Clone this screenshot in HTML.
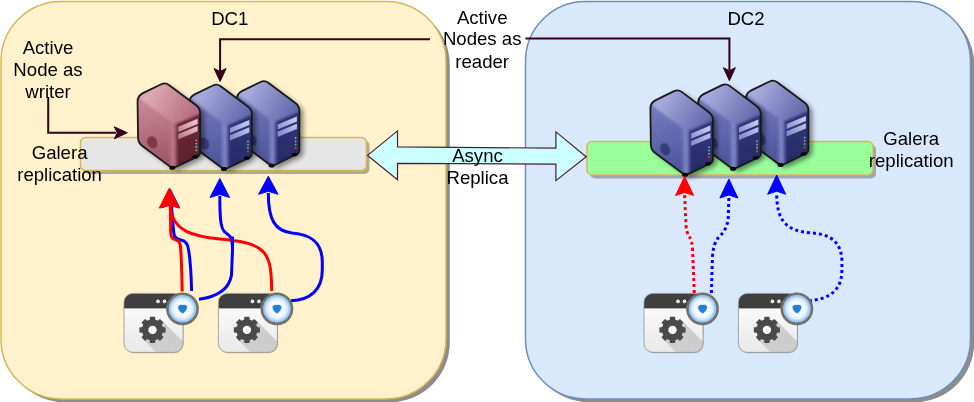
<!DOCTYPE html>
<html><head><meta charset="utf-8"><style>
html,body{margin:0;padding:0;background:#fff;width:974px;height:402px;overflow:hidden}
svg{display:block;filter:blur(0.35px)}
text{font-family:"Liberation Sans", sans-serif;font-size:18.6px;fill:#000}
</style></head><body>
<svg width="974" height="402" viewBox="0 0 974 402">

<defs>
 <filter id="fblur" x="-20%" y="-20%" width="140%" height="140%"><feGaussianBlur stdDeviation="0.9"/></filter>
 <filter id="fb2" x="-30%" y="-30%" width="160%" height="160%"><feGaussianBlur stdDeviation="0.5"/></filter>
 <filter id="soft" x="-30%" y="-30%" width="160%" height="160%">
   <feGaussianBlur stdDeviation="2.5"/>
 </filter>
 <linearGradient id="appbody" x1="0" y1="0" x2="0" y2="1">
   <stop offset="0" stop-color="#ffffff"/><stop offset="1" stop-color="#e8e8e8"/>
 </linearGradient>
 <radialGradient id="eye" cx="0.5" cy="0.5" r="0.5">
   <stop offset="0" stop-color="#eaf4ff"/><stop offset="0.45" stop-color="#f8fbff"/>
   <stop offset="0.68" stop-color="#dcedfd"/><stop offset="0.86" stop-color="#92c5f4"/><stop offset="1" stop-color="#b4d6f7"/>
 </radialGradient>


 <linearGradient id="bbevg" gradientUnits="userSpaceOnUse" x1="3" y1="0" x2="12.5" y2="0">
   <stop offset="0" stop-color="#858bca" stop-opacity="0"/><stop offset="0.55" stop-color="#858bca" stop-opacity="1"/><stop offset="1" stop-color="#30357a" stop-opacity="1"/>
 </linearGradient>
 <linearGradient id="btop" gradientUnits="userSpaceOnUse" x1="-12" y1="6" x2="34" y2="34">
   <stop offset="0" stop-color="#a4a8da"/><stop offset="1" stop-color="#5e64a8"/>
 </linearGradient>
 <linearGradient id="bleft" gradientUnits="userSpaceOnUse" x1="-14" y1="22" x2="2" y2="84">
   <stop offset="0" stop-color="#7278bc"/><stop offset="1" stop-color="#4c5296"/>
 </linearGradient>
 <linearGradient id="bfront" gradientUnits="userSpaceOnUse" x1="0" y1="35" x2="0" y2="85">
   <stop offset="0" stop-color="#30357a"/><stop offset="1" stop-color="#272b66"/>
 </linearGradient>
 <linearGradient id="bstr" gradientUnits="userSpaceOnUse" x1="32" y1="36" x2="13" y2="50">
   <stop offset="0" stop-color="#cdd1f2"/><stop offset="1" stop-color="#8a8fcc"/>
 </linearGradient>
 <clipPath id="scb"><path d="M-4.05,1.97 Q0.00,0.00 3.60,2.69 L30.79,23.01 Q34.80,26.00 34.80,31.00 L34.80,70.00 Q34.80,73.00 32.10,74.30 L10.91,84.47 Q7.30,86.20 4.09,83.81 L-23.19,63.49 Q-27.20,60.50 -27.26,55.50 L-27.72,19.50 Q-27.80,13.50 -22.40,10.88 Z"/></clipPath>
 <g id="srvb">
   <path d="M-4.05,1.97 Q0.00,0.00 3.60,2.69 L30.79,23.01 Q34.80,26.00 34.80,31.00 L34.80,70.00 Q34.80,73.00 32.10,74.30 L10.91,84.47 Q7.30,86.20 4.09,83.81 L-23.19,63.49 Q-27.20,60.50 -27.26,55.50 L-27.72,19.50 Q-27.80,13.50 -22.40,10.88 Z" fill="#000" opacity="0.45" transform="translate(4,3)" filter="url(#soft)"/>
   <g clip-path="url(#scb)">
     <g filter="url(#fblur)">
     <rect x="-30" y="-2" width="70" height="92" fill="url(#bleft)"/>
     <path d="M12,40 L40,24 L40,95 L12,95 Z" fill="url(#bfront)"/>
     <path d="M0,-2 L40,26 L40,29 L12,41 Q7.5,42 5,39 L-30,13 Z" fill="url(#btop)"/>
     <path d="M2,37 Q7.5,42 12.5,41 L12.5,95 L2,95 Z" fill="url(#bbevg)"/>
     </g>
     <path d="M13,44.4 L32.3,36.4 L32.3,41.6 L13,49.6 Z" fill="url(#bstr)"/>
     <path d="M13,51.7 L32.3,43.7 L32.3,48.9 L13,56.9 Z" fill="url(#bstr)"/>
     <ellipse cx="-13" cy="60" rx="4.8" ry="6.3" fill="#363b78" opacity="0.95" transform="rotate(-25 -13 60)" filter="url(#fb2)"/>
     <circle cx="31" cy="58" r="0.9" fill="#a0a0c0"/>
     <circle cx="31" cy="61.3" r="0.9" fill="#a0a0c0"/>
     <circle cx="31" cy="64.6" r="1.1" fill="#40c040"/>
     <circle cx="31" cy="68" r="1.1" fill="#e03030"/>
   </g>
   <path d="M-4.05,1.97 Q0.00,0.00 3.60,2.69 L30.79,23.01 Q34.80,26.00 34.80,31.00 L34.80,70.00 Q34.80,73.00 32.10,74.30 L10.91,84.47 Q7.30,86.20 4.09,83.81 L-23.19,63.49 Q-27.20,60.50 -27.26,55.50 L-27.72,19.50 Q-27.80,13.50 -22.40,10.88 Z" fill="none" stroke="#1a1a1a" stroke-width="1.8" stroke-linejoin="round"/>
   <ellipse cx="7" cy="85.5" rx="3" ry="2" fill="#000"/>
   <ellipse cx="30" cy="74.5" rx="3" ry="1.8" fill="#000"/>
 </g>

 <linearGradient id="rbevg" gradientUnits="userSpaceOnUse" x1="3" y1="0" x2="12.5" y2="0">
   <stop offset="0" stop-color="#c07a8a" stop-opacity="0"/><stop offset="0.55" stop-color="#c07a8a" stop-opacity="1"/><stop offset="1" stop-color="#702a3a" stop-opacity="1"/>
 </linearGradient>
 <linearGradient id="rtop" gradientUnits="userSpaceOnUse" x1="-12" y1="6" x2="34" y2="34">
   <stop offset="0" stop-color="#dea8b4"/><stop offset="1" stop-color="#b06878"/>
 </linearGradient>
 <linearGradient id="rleft" gradientUnits="userSpaceOnUse" x1="-14" y1="22" x2="2" y2="84">
   <stop offset="0" stop-color="#c68696"/><stop offset="1" stop-color="#9a5264"/>
 </linearGradient>
 <linearGradient id="rfront" gradientUnits="userSpaceOnUse" x1="0" y1="35" x2="0" y2="85">
   <stop offset="0" stop-color="#702a3a"/><stop offset="1" stop-color="#5a1e2c"/>
 </linearGradient>
 <linearGradient id="rstr" gradientUnits="userSpaceOnUse" x1="32" y1="36" x2="13" y2="50">
   <stop offset="0" stop-color="#f0ccd4"/><stop offset="1" stop-color="#c08490"/>
 </linearGradient>
 <clipPath id="scr"><path d="M-4.05,1.97 Q0.00,0.00 3.60,2.69 L30.79,23.01 Q34.80,26.00 34.80,31.00 L34.80,70.00 Q34.80,73.00 32.10,74.30 L10.91,84.47 Q7.30,86.20 4.09,83.81 L-23.19,63.49 Q-27.20,60.50 -27.26,55.50 L-27.72,19.50 Q-27.80,13.50 -22.40,10.88 Z"/></clipPath>
 <g id="srvr">
   <path d="M-4.05,1.97 Q0.00,0.00 3.60,2.69 L30.79,23.01 Q34.80,26.00 34.80,31.00 L34.80,70.00 Q34.80,73.00 32.10,74.30 L10.91,84.47 Q7.30,86.20 4.09,83.81 L-23.19,63.49 Q-27.20,60.50 -27.26,55.50 L-27.72,19.50 Q-27.80,13.50 -22.40,10.88 Z" fill="#000" opacity="0.45" transform="translate(4,3)" filter="url(#soft)"/>
   <g clip-path="url(#scr)">
     <g filter="url(#fblur)">
     <rect x="-30" y="-2" width="70" height="92" fill="url(#rleft)"/>
     <path d="M12,40 L40,24 L40,95 L12,95 Z" fill="url(#rfront)"/>
     <path d="M0,-2 L40,26 L40,29 L12,41 Q7.5,42 5,39 L-30,13 Z" fill="url(#rtop)"/>
     <path d="M2,37 Q7.5,42 12.5,41 L12.5,95 L2,95 Z" fill="url(#rbevg)"/>
     </g>
     <path d="M13,44.4 L32.3,36.4 L32.3,41.6 L13,49.6 Z" fill="url(#rstr)"/>
     <path d="M13,51.7 L32.3,43.7 L32.3,48.9 L13,56.9 Z" fill="url(#rstr)"/>
     <ellipse cx="-13" cy="60" rx="4.8" ry="6.3" fill="#7a3446" opacity="0.95" transform="rotate(-25 -13 60)" filter="url(#fb2)"/>
     <circle cx="31" cy="58" r="0.9" fill="#b0a0a8"/>
     <circle cx="31" cy="61.3" r="0.9" fill="#a0b0b0"/>
     <circle cx="31" cy="64.6" r="1.1" fill="#40c0c0"/>
     <circle cx="31" cy="68" r="1.1" fill="#40c040"/>
   </g>
   <path d="M-4.05,1.97 Q0.00,0.00 3.60,2.69 L30.79,23.01 Q34.80,26.00 34.80,31.00 L34.80,70.00 Q34.80,73.00 32.10,74.30 L10.91,84.47 Q7.30,86.20 4.09,83.81 L-23.19,63.49 Q-27.20,60.50 -27.26,55.50 L-27.72,19.50 Q-27.80,13.50 -22.40,10.88 Z" fill="none" stroke="#1a1a1a" stroke-width="1.8" stroke-linejoin="round"/>
   <ellipse cx="7" cy="85.5" rx="3" ry="2" fill="#000"/>
   <ellipse cx="30" cy="74.5" rx="3" ry="1.8" fill="#000"/>
 </g>

 <g id="app">
   <clipPath id="appclip"><rect x="0" y="0" width="59" height="59" rx="9"/></clipPath>
   <rect x="0.6" y="0.8" width="59" height="59" rx="9" fill="#000" opacity="0.2"/>
   <g clip-path="url(#appclip)">
     <rect x="0" y="0" width="59" height="59" fill="url(#appbody)"/>
     <path d="M37.9,27.1 L87.9,77.1 L69.1,95.9 L19.1,45.9 Z" fill="#cdcdcd"/>
     <rect x="0" y="0" width="59" height="15" fill="#3f3f3f"/>
   </g>
   <rect x="0" y="0" width="59" height="59" rx="9" fill="none" stroke="#8a8a80" stroke-width="0.9" opacity="0.8"/>
   <path d="M38.72,33.67 L41.56,33.99 L41.56,39.01 L38.72,39.33 L38.29,40.56 L37.72,41.72 L39.51,43.96 L35.96,47.51 L33.72,45.72 L32.56,46.29 L31.33,46.72 L31.01,49.56 L25.99,49.56 L25.67,46.72 L24.44,46.29 L23.28,45.72 L21.04,47.51 L17.49,43.96 L19.28,41.72 L18.71,40.56 L18.28,39.33 L15.44,39.01 L15.44,33.99 L18.28,33.67 L18.71,32.44 L19.28,31.28 L17.49,29.04 L21.04,25.49 L23.28,27.28 L24.44,26.71 L25.67,26.28 L25.99,23.44 L31.01,23.44 L31.33,26.28 L32.56,26.71 L33.72,27.28 L35.96,25.49 L39.51,29.04 L37.72,31.28 L38.29,32.44 Z" fill="#4a4a4a"/>
   <circle cx="28.5" cy="36.5" r="4.2" fill="#fff"/>
   <circle cx="34" cy="8" r="1.8" fill="#fff"/>
   <circle cx="40.5" cy="8" r="1.8" fill="#fff"/>
   <circle cx="58.5" cy="15.4" r="15" fill="url(#eye)"/>
   <circle cx="58.5" cy="15.4" r="15.1" fill="none" stroke="#6e6e6e" stroke-width="2.6"/>
   <circle cx="58.5" cy="15.4" r="15" fill="none" stroke="#c89a48" stroke-width="1" stroke-dasharray="1 5" opacity="0.8"/>
   <path d="M54,13 Q56.2,10.6 58.9,11.6 Q61.6,10.6 63.2,13.2 Q63,17.4 58.8,20.2 Q54.2,17.4 54,13 Z" fill="#1f80d4"/>
 </g>
</defs>
<rect x="4.8" y="4.9" width="445" height="397.5" rx="60" fill="#8c8c8c"/>
<rect x="1" y="1.4" width="445" height="397.5" rx="60" fill="#fff2cc" stroke="#d6b656" stroke-width="1.5"/>
<rect x="529.3" y="4.9" width="445" height="397.5" rx="60" fill="#8c8c8c"/>
<rect x="525.5" y="1.4" width="445" height="397.5" rx="60" fill="#dae8fc" stroke="#6c8ebf" stroke-width="1.5"/>
<rect x="83.5" y="140.5" width="286" height="33.5" rx="5" fill="#707070" opacity="0.55"/>
<rect x="80.5" y="137.5" width="286" height="33" rx="5" fill="#e6e6e6" stroke="#d6b656" stroke-width="1.5"/>
<rect x="590" y="144.5" width="286" height="34" rx="5" fill="#707070" opacity="0.55"/>
<rect x="587" y="141.5" width="286" height="33.5" rx="5" fill="#99ff99" stroke="#d6b656" stroke-width="1.5"/>
<path d="M367.6,155.4 L397.5,130.9 L397.5,146.8 L555.9,148.2 L555.9,131.9 L586.2,156.8 L555.9,180.6 L555.9,164.1 L397.5,163.3 L397.5,179.7 Z" fill="#ccffff" stroke="#4a1c36" stroke-width="1.2" stroke-linejoin="miter"/>
<use href="#srvb" transform="translate(264.6,80)"/>
<use href="#srvb" transform="translate(217,83.5)"/>
<use href="#srvr" transform="translate(165.3,82.3)"/>
<use href="#srvb" transform="translate(773.6,79.5)"/>
<use href="#srvb" transform="translate(726,83.2)"/>
<use href="#srvb" transform="translate(678.1,89.2)"/>
<path d="M48.2,97 L48.2,132.8 L116,132.8" fill="none" stroke="#33001a" stroke-width="2"/>
<path d="M127.3,132.8 L114.3,138.8 L117.3,132.8 L114.3,126.8 Z" fill="#33001a" stroke="#33001a" stroke-width="1"/>
<path d="M430,39.2 L220.1,39.2 L220.1,71" fill="none" stroke="#33001a" stroke-width="2"/>
<path d="M220.1,81.5 L214.1,68.5 L220.1,71.5 L226.1,68.5 Z" fill="#33001a" stroke="#33001a" stroke-width="1"/>
<path d="M525.5,38.5 L729.4,38.5 L729.4,70" fill="none" stroke="#33001a" stroke-width="2"/>
<path d="M729.4,80.7 L723.4,67.7 L729.4,70.7 L735.4,67.7 Z" fill="#33001a" stroke="#33001a" stroke-width="1"/>
<path d="M191.6,291 C191.2,275 190,258 188.6,250 Q187.4,240.8 181,240 Q174.5,239.2 173.8,233 L172.8,222 L171.5,206" fill="none" stroke="#0000ff" stroke-width="3"/>
<path d="M170.3,189.0 L179.8,208.0 L170.3,205.0 L160.8,208.0 Z" fill="#0000ff" stroke="#0000ff" stroke-width="1"/>
<path d="M199,299.3 C215,297 229,291 231.5,275 L232.5,250 C232.5,240 231,236 226,233 C221,230 219.8,222 219.8,196" fill="none" stroke="#0000ff" stroke-width="3"/>
<path d="M291,300.7 C310,300 322.3,290 322.3,270 L322.3,262 C322.3,238 305,234 292,233 C275,231 268.3,220 268.3,193" fill="none" stroke="#0000ff" stroke-width="3"/>
<path d="M182.2,291.5 C181.8,270 181,252 180.4,246 Q179.8,240.5 175.5,239.8 Q171,239 170.7,233 L170.3,205" fill="none" stroke="#ff0000" stroke-width="3"/>
<path d="M271.7,291 C271.5,268 270,256 260,249 C252,243 240,241 220,239 C195,236.5 172,232 170.3,206" fill="none" stroke="#ff0000" stroke-width="3"/>
<path d="M232.6,246 L232.4,236.5" fill="none" stroke="#0000ff" stroke-width="3"/>
<path d="M169.3,188.1 L179.3,208.1 L169.3,205.1 L159.3,208.1 Z" fill="#ff0000" stroke="#ff0000" stroke-width="1"/>
<path d="M219.8,178.5 L229.6,197.5 L219.8,194.5 L210.1,197.5 Z" fill="#0000ff" stroke="#0000ff" stroke-width="1"/>
<path d="M268.3,176.3 L278.1,194.3 L268.3,191.3 L258.6,194.3 Z" fill="#0000ff" stroke="#0000ff" stroke-width="1"/>
<path d="M694.3,293 L692.6,250 Q692,240 689.5,237 Q686.5,233 686,225 L684.6,195" fill="none" stroke="#ff0000" stroke-width="3" stroke-dasharray="3 3"/>
<path d="M711.4,293 L712.4,258 Q713,244 718.5,237.5 Q727.5,229 728.2,218 L728.9,198" fill="none" stroke="#0000ff" stroke-width="3" stroke-dasharray="3 3"/>
<path d="M808.8,300.7 C830,299 841.9,290 841.9,270 L841.9,262 C841.9,238 825,234 812,233 C785,231 776.7,220 776.7,193" fill="none" stroke="#0000ff" stroke-width="3" stroke-dasharray="3 3"/>
<path d="M684.6,176.5 L693.6,195.5 L684.6,192.5 L675.6,195.5 Z" fill="#ff0000" stroke="#ff0000" stroke-width="1"/>
<path d="M728.9,179.0 L737.9,198.0 L728.9,195.0 L719.9,198.0 Z" fill="#0000ff" stroke="#0000ff" stroke-width="1"/>
<path d="M776.7,175.2 L785.7,194.2 L776.7,191.2 L767.7,194.2 Z" fill="#0000ff" stroke="#0000ff" stroke-width="1"/>
<use href="#app" transform="translate(124,293.4)"/>
<use href="#app" transform="translate(218.4,293.4)"/>
<use href="#app" transform="translate(644,293.4)"/>
<use href="#app" transform="translate(738.4,293.4)"/>
<g>
<text x="229.8" y="24.9" text-anchor="middle">DC1</text>
<text x="746" y="25" text-anchor="middle">DC2</text>
<text x="48" y="53.5" text-anchor="middle">Active</text>
<text x="48" y="75.9" text-anchor="middle">Node as</text>
<text x="48" y="98.3" text-anchor="middle">writer</text>
<text x="482.2" y="23.5" text-anchor="middle">Active</text>
<text x="482.2" y="45.3" text-anchor="middle">Nodes as</text>
<text x="482.2" y="67.5" text-anchor="middle">reader</text>
<text x="59.6" y="159" text-anchor="middle">Galera</text>
<text x="59.6" y="180.7" text-anchor="middle">replication</text>
<text x="911.2" y="145.3" text-anchor="middle">Galera</text>
<text x="911.2" y="167.3" text-anchor="middle">replication</text>
<text x="477.5" y="161.5" text-anchor="middle">Async</text>
<text x="477.5" y="183.5" text-anchor="middle">Replica</text>
</g>
</svg>
</body></html>
